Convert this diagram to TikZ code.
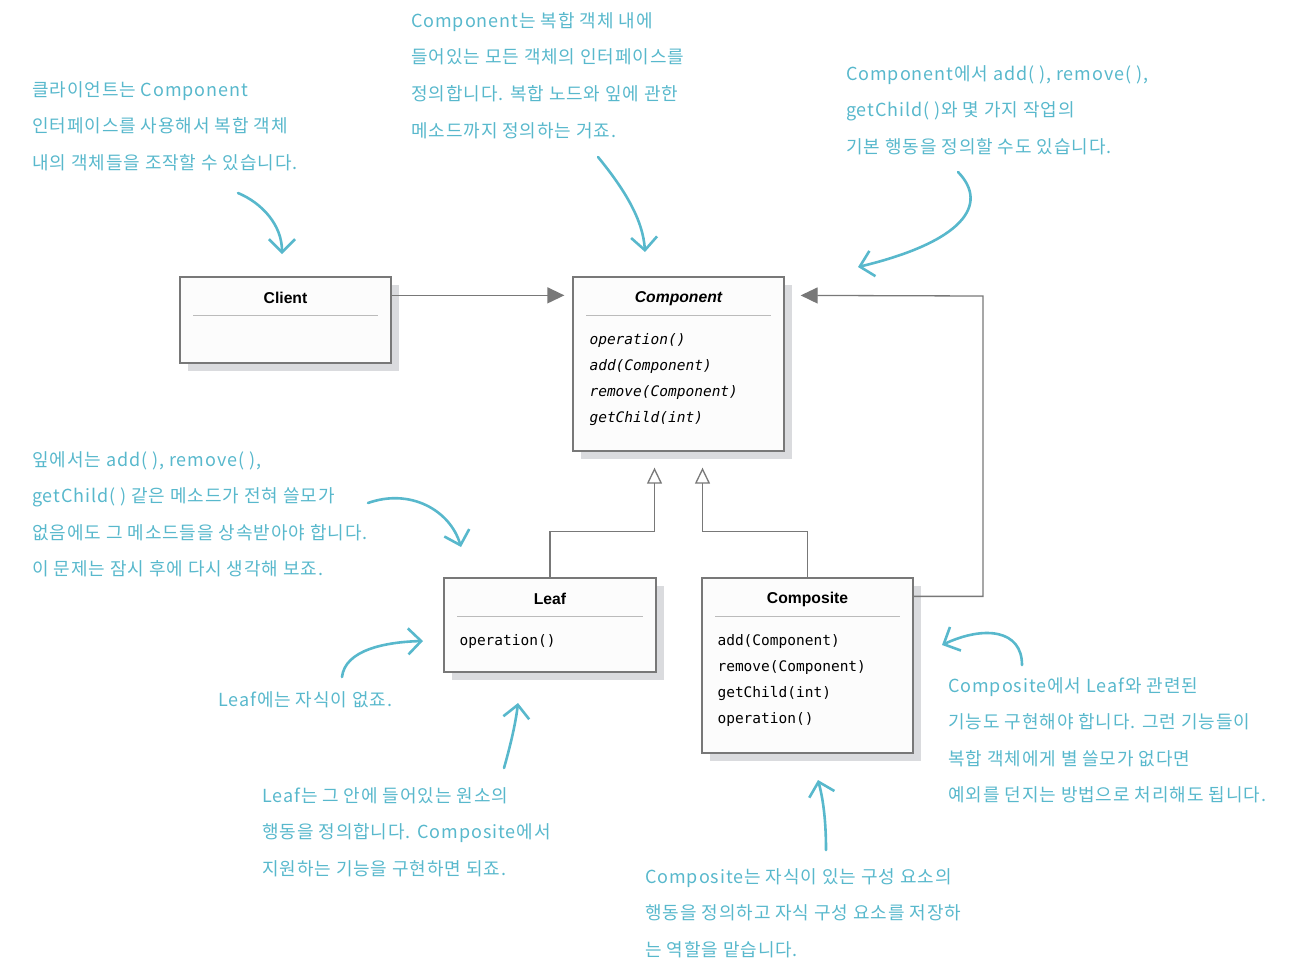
\documentclass[tikz,border=0pt]{standalone}
\usepackage{fontspec}
\usetikzlibrary{arrows.meta,shadows}
\newfontfamily\krfont[LetterSpace=5]{Noto Sans CJK KR}
\newfontfamily\umlfont{Liberation Sans}
\newfontfamily\codefont{DejaVu Sans Mono}
\definecolor{figT}{RGB}{88,184,204}
\definecolor{figG}{RGB}{120,120,120}
\definecolor{figS}{RGB}{218,219,222}

\begin{document}
\begin{tikzpicture}[x=1pt,y=-1pt,
  classbox/.style={draw=figG,line width=1.3pt,fill=black!1,inner sep=0pt,
    drop shadow={shadow xshift=8pt,shadow yshift=-8pt,fill=figS,opacity=1}},
  classname/.style={font=\umlfont\bfseries\fontsize{15.7}{18}\selectfont,inner sep=0pt},
  methods/.style={font=\codefont\fontsize{14.5}{26.3}\selectfont,align=left,anchor=north west,inner sep=0pt},
  methodsI/.style={methods,font=\codefont\itshape\fontsize{14.5}{26.3}\selectfont},
  divider/.style={figG!50,line width=0.8pt},
  note/.style={font=\krfont\fontsize{18}{36.6}\selectfont,text=figT,align=left,anchor=north west,inner sep=0pt},
  hand/.style={figT,line width=2.6pt,line cap=round,-{Straight Barb[length=13pt,width=26pt]}},
  uml/.style={figG,line width=1.3pt}]
\useasboundingbox (0,0) rectangle (1300,978);
% classes
\node[classbox,minimum width=211pt,minimum height=86pt] (client) at (285.5,320) {};
\node[classname] (clientT) at ([yshift=-22pt]client.north) {Client};
\draw[divider] ([xshift=14pt,yshift=-39pt]client.north west) -- ([xshift=-14pt,yshift=-39pt]client.north east);

\node[classbox,minimum width=211pt,minimum height=174pt] (component) at (678.5,364) {};
\node[classname] (componentT) at ([yshift=-22pt]component.north) {\itshape Component};
\draw[divider] ([xshift=14pt,yshift=-39pt]component.north west) -- ([xshift=-14pt,yshift=-39pt]component.north east);
\node[methodsI] (componentM) at ([xshift=17pt,yshift=-56.5pt]component.north west) {operation()\\add(Component)\\remove(Component)\\getChild(int)};

\node[classbox,minimum width=212pt,minimum height=94pt] (leaf) at (550,625) {};
\node[classname] (leafT) at ([yshift=-22pt]leaf.north) {Leaf};
\draw[divider] ([xshift=14pt,yshift=-39pt]leaf.north west) -- ([xshift=-14pt,yshift=-39pt]leaf.north east);
\node[methods] (leafM) at ([xshift=16pt,yshift=-56.5pt]leaf.north west) {operation()};

\node[classbox,minimum width=211pt,minimum height=175pt] (composite) at (807.5,665.5) {};
\node[classname] (compositeT) at ([yshift=-22pt]composite.north) {Composite};
\draw[divider] ([xshift=14pt,yshift=-39pt]composite.north west) -- ([xshift=-14pt,yshift=-39pt]composite.north east);
\node[methods] (compositeM) at ([xshift=16pt,yshift=-56.5pt]composite.north west) {add(Component)\\remove(Component)\\getChild(int)\\operation()};
% relations
\coordinate (aggbend) at (983,296);
\draw[uml,-{Triangle[length=17pt,width=16pt]},shorten >=8pt] ([yshift=-19pt]client.north east) -- ([yshift=-19pt]component.north west);
\draw[uml,-{Triangle[length=17pt,width=16pt]},shorten >=16pt] ([yshift=-19pt]composite.north east) -| (aggbend) -- ([yshift=-19pt]component.north east);
\draw[uml,-{Triangle[open,length=16pt,width=15pt]},shorten >=16pt] (leaf.north) -- ++(0,-46) -| ([xshift=-24pt]component.south);
\draw[uml,-{Triangle[open,length=16pt,width=15pt]},shorten >=16pt] (composite.north) -- ++(0,-46) -| ([xshift=24pt]component.south);
% notes
\node[note] (noteClient) at (32,81) {클라이언트는 Component\\인터페이스를 사용해서 복합 객체\\내의 객체들을 조작할 수 있습니다.};
\node[note] (noteComponent) at (411,12) {Component는 복합 객체 내에\\들어있는 모든 객체의 인터페이스를\\정의합니다. 복합 노드와 잎에 관한\\메소드까지 정의하는 거죠.};
\node[note] (noteDefault) at (846,65) {Component에서 add( ), remove( ),\\getChild( )와 몇 가지 작업의\\기본 행동을 정의할 수도 있습니다.};
\node[note] (noteInherit) at (32,451) {잎에서는 add( ), remove( ),\\getChild( ) 같은 메소드가 전혀 쓸모가\\없음에도 그 메소드들을 상속받아야 합니다.\\이 문제는 잠시 후에 다시 생각해 보죠.};
\node[note] (noteNoChild) at (218,691) {Leaf에는 자식이 없죠.};
\node[note] (noteLeaf) at (262,787) {Leaf는 그 안에 들어있는 원소의\\행동을 정의합니다. Composite에서\\지원하는 기능을 구현하면 되죠.};
\node[note] (noteComposite) at (645,868) {Composite는 자식이 있는 구성 요소의\\행동을 정의하고 자식 구성 요소를 저장하\\는 역할을 맡습니다.};
\node[note] (noteThrow) at (948,677) {Composite에서 Leaf와 관련된\\기능도 구현해야 합니다. 그런 기능들이\\복합 객체에게 별 쓸모가 없다면\\예외를 던지는 방법으로 처리해도 됩니다.};
% hand arrows
\draw[hand] (238,193) .. controls (262,203) and (282,225) .. (282,254);
\draw[hand] (598,157) .. controls (625,190) and (643,220) .. (645,252);
\draw[hand] (958,172) .. controls (990,205) and (962,242) .. (858,267);
\draw[hand] (368,503) .. controls (410,488) and (450,510) .. (461,547);
\draw[hand] (342,677) .. controls (345,650) and (385,642) .. (423,641);
\draw[hand] (504,768) .. controls (512,740) and (516,720) .. (518,703);
\draw[hand] (826,850) .. controls (826,815) and (822,795) .. (818,780);
\draw[hand] (1022,665) .. controls (1022,630) and (985,625) .. (942,645);
\end{tikzpicture}
\end{document}
